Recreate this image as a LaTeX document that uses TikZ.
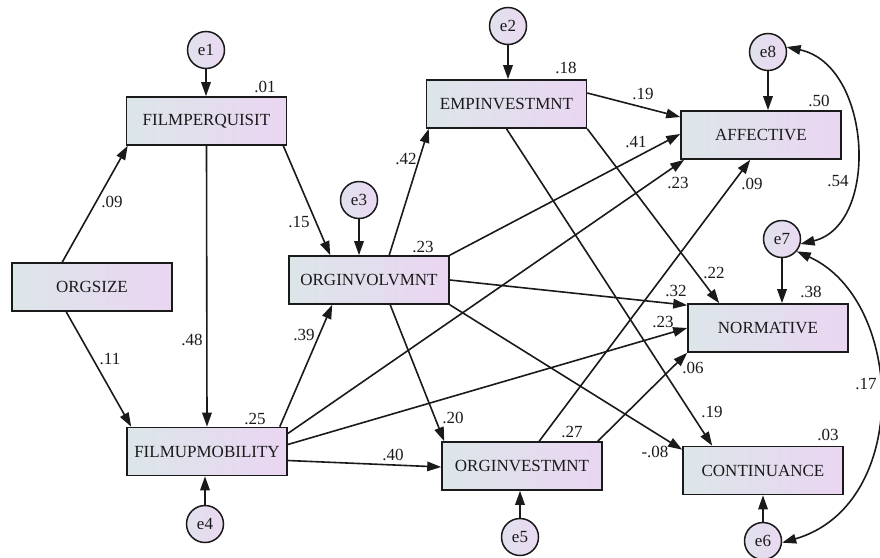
\documentclass[tikz,border=0pt]{standalone}
\usepackage{fontspec}
\setmainfont{Liberation Serif}
\newfontfamily\tnr{Liberation Serif}
\usetikzlibrary{arrows.meta,calc}
\definecolor{boxL}{HTML}{DCE6E9}
\definecolor{boxR}{HTML}{EAD6F2}
\definecolor{cirL}{HTML}{E0E2EC}
\definecolor{cirR}{HTML}{EAD8F2}
\definecolor{ink}{HTML}{1A1A1A}
\begin{document}
\begin{tikzpicture}[x=1pt,y=-1pt,
  var/.style={draw=ink, line width=1.6pt, left color=boxL, right color=boxR, minimum width=160pt, minimum height=48pt, inner sep=0pt, font=\tnr\fontsize{17}{19}\selectfont, text=ink},
  err/.style={circle, draw=ink, line width=1.5pt, left color=cirL, right color=cirR, minimum size=37pt, inner sep=0pt, font=\tnr\fontsize{17}{19}\selectfont, text=ink},
  arr/.style={-{Triangle[length=14pt,width=9.5pt]}, line width=1.6pt, draw=ink},
  dbl/.style={{Triangle[length=14pt,width=9.5pt]}-{Triangle[length=14pt,width=9.5pt]}, line width=1.6pt, draw=ink},
  lab/.style={font=\tnr\fontsize{17}{19}\selectfont, inner sep=0pt, text=ink}
]
\useasboundingbox (0,0) rectangle (880,557);
% observed variables
\node[var] (fp) at (206.5,121) {FILMPERQUISIT};
\node[var] (os) at (92,287) {ORGSIZE};
\node[var] (fu) at (207,451.5) {FILMUPMOBILITY};
\node[var] (oi) at (369,280) {ORGINVOLVMNT};
\node[var] (ei) at (506.5,104) {EMPINVESTMNT};
\node[var] (af) at (761,135) {AFFECTIVE};
\node[var] (no) at (768,328) {NORMATIVE};
\node[var] (co) at (763,470.5) {CONTINUANCE};
\node[var] (ov) at (522,466) {ORGINVESTMNT};
% error terms
\node[err] (e1) at (206,50) {e1};
\node[err] (e2) at (508,26) {e2};
\node[err] (e3) at (359,200) {e3};
\node[err] (e4) at (205,524) {e4};
\node[err] (e5) at (520,537) {e5};
\node[err] (e6) at (763,541) {e6};
\node[err] (e7) at (782,239) {e7};
\node[err] (e8) at (768,52) {e8};
% error arrows
\draw[arr] (e1) -- (e1 |- fp.north);
\draw[arr] (e2) -- (e2 |- ei.north);
\draw[arr] (e3) -- (e3 |- oi.north);
\draw[arr] (e4) -- (e4 |- fu.south);
\draw[arr] (e5) -- (e5 |- ov.south);
\draw[arr] (e6) -- (e6 |- co.south);
\draw[arr] (e7) -- (e7 |- no.north);
\draw[arr] (e8) -- (e8 |- af.north);
% structural paths
\draw[arr] ($(os.north west)+(51,0)$) -- ($(fp.south west)+(2,0)$);
\draw[arr] ($(os.south west)+(55,0)$) -- ($(fu.north west)+(5,0)$);
\draw[arr] (fp.south) -- (fu.north);
\draw[arr] ($(fp.south east)+(-4,0)$) -- ($(oi.north west)+(42,0)$);
\draw[arr] ($(oi.north west)+(101,0)$) -- ($(ei.south west)+(3,0)$);
\draw[arr] ($(fu.north east)+(-8,0)$) -- ($(oi.south west)+(44,0)$);
\draw[arr] ($(ei.east)+(0,-11)$) -- ($(af.west)+(0,-18)$);
\draw[arr] (oi.north east) -- ($(af.west)+(0,-1)$);
\draw[arr] ($(fu.east)+(0,-18)$) -- ($(af.south west)+(4,0)$);
\draw[arr] ($(ov.north west)+(98,0)$) -- ($(af.south west)+(70,0)$);
\draw[arr] (ei.south east) -- ($(no.north west)+(32,0)$);
\draw[arr] (ei.south) -- ($(co.north west)+(30,0)$);
\draw[arr] (oi.east) -- ($(no.north west)+(0,2)$);
\draw[arr] ($(fu.east)+(0,-7)$) -- (no.west);
\draw[arr] ($(ov.north east)+(-5,0)$) -- (no.south west);
\draw[arr] (oi.south east) -- ($(co.north west)+(0,4)$);
\draw[arr] ($(oi.south west)+(102,0)$) -- ($(ov.north west)+(3,0)$);
\draw[arr] ($(fu.east)+(0,9)$) -- ($(ov.west)+(0,1)$);
% covariances
\draw[dbl] (e8.15) .. controls (872,65) and (880,225) .. (e7.-15);
\draw[dbl] (e7.-40) .. controls (905,300) and (912,505) .. (e6.-5);
% labels
\node[lab] (r01) at (265,87) {.01};
\node[lab] (r18) at (566,68) {.18};
\node[lab] (r23) at (423,247) {.23};
\node[lab] (r25) at (255,419) {.25};
\node[lab] (r20) at (453,418) {.20};
\node[lab] (r27) at (572,432) {.27};
\node[lab] (r50) at (819,101) {.50};
\node[lab] (r38) at (811,292) {.38};
\node[lab] (r03) at (828,435) {.03};
\node[lab] (p09) at (112,202) {.09};
\node[lab] (p11) at (110,359) {.11};
\node[lab] (p48) at (192,340) {.48};
\node[lab] (p15) at (299,222) {.15};
\node[lab] (p42) at (406,159) {.42};
\node[lab] (p39) at (304,335) {.39};
\node[lab] (p40) at (393,455) {.40};
\node[lab] (p19a) at (643,94) {.19};
\node[lab] (p41) at (636,142) {.41};
\node[lab] (p23a) at (678,183) {.23};
\node[lab] (p09a) at (752,184) {.09};
\node[lab] (p54) at (838,181) {.54};
\node[lab] (p22) at (714,273) {.22};
\node[lab] (p32) at (676,291) {.32};
\node[lab] (p23n) at (663,322) {.23};
\node[lab] (p06) at (693,368) {.06};
\node[lab] (p17) at (866,384) {.17};
\node[lab] (p19c) at (712,412) {.19};
\node[lab] (p08) at (655,452) {-.08};
\end{tikzpicture}
\end{document}
